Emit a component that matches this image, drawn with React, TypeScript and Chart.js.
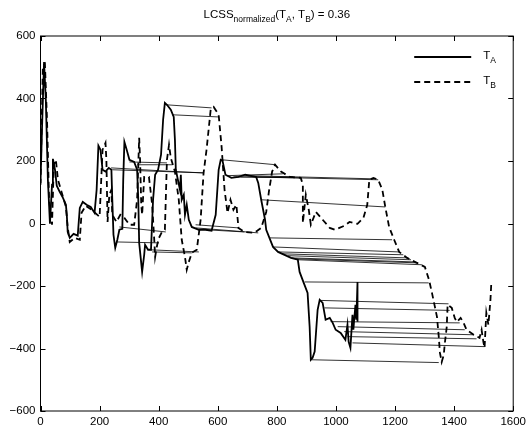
import React, { useEffect, useRef } from "react";
import { Chart, registerables } from "chart.js";

Chart.register(...registerables);

// T_A (solid)
const TA_X = [0, 5, 12, 18, 25, 32, 39, 42, 49, 55, 65, 76, 86, 89, 92, 99, 112, 126, 133, 143, 156, 170, 183, 190, 196, 203, 210, 220, 231, 240, 243, 247, 253, 260, 267, 277, 280, 284, 290, 301, 317, 327, 331, 334, 344, 351, 354, 364, 374, 381, 388, 398, 408, 415, 421, 428, 441, 451, 455, 458, 465, 472, 475, 478, 485, 489, 495, 502, 512, 536, 559, 579, 593, 603, 610, 616, 626, 646, 670, 693, 730, 737, 747, 760, 764, 787, 804, 848, 871, 877, 891, 904, 911, 915, 921, 928, 938, 945, 955, 965, 979, 989, 999, 1016, 1032, 1039, 1043, 1049, 1056, 1059, 1066, 1069, 1073, 1073];
const TA_Y = [130, 300, 517, 396, 140, -1, 124, 207, 172, 121, 101, 82, 60, 28, -27, -46, -33, -39, 50, 69, 60, 53, 34, 108, 249, 236, 172, 166, 178, 172, 76, -36, -78, -52, -20, -17, 140, 261, 242, 204, 197, 172, 76, -62, -155, -100, -68, -84, -84, 76, 156, 172, 220, 332, 386, 380, 364, 341, 268, 172, 140, 108, 156, 76, 92, 28, 60, 12, -11, -20, -20, -23, 28, 172, 204, 201, 156, 146, 149, 156, 149, 130, 76, 12, -20, -75, -91, -110, -116, -155, -190, -222, -331, -436, -430, -410, -276, -244, -254, -308, -302, -318, -340, -350, -372, -324, -379, -398, -292, -340, -260, -308, -187, -314];

// T_B (dashed)
const TB_X = [0, 8, 15, 22, 29, 39, 45, 52, 59, 76, 86, 92, 99, 116, 133, 139, 153, 173, 200, 210, 220, 223, 227, 233, 240, 243, 257, 270, 284, 301, 317, 327, 334, 337, 341, 344, 351, 367, 378, 385, 388, 395, 401, 411, 421, 428, 435, 441, 455, 468, 478, 489, 495, 502, 512, 529, 542, 552, 562, 576, 586, 603, 613, 623, 633, 643, 653, 663, 670, 690, 724, 747, 764, 774, 784, 794, 814, 844, 881, 888, 888, 898, 908, 915, 932, 955, 979, 996, 1029, 1046, 1073, 1093, 1106, 1113, 1127, 1143, 1157, 1167, 1180, 1197, 1214, 1241, 1274, 1301, 1315, 1325, 1335, 1342, 1348, 1352, 1358, 1365, 1368, 1375, 1378, 1392, 1402, 1409, 1422, 1432, 1442, 1466, 1486, 1493, 1499, 1503, 1509, 1516, 1523, 1526];
const TB_Y = [124, 505, 511, 332, 76, -4, 188, 204, 140, 86, 53, -11, -59, -46, -52, 34, 57, 44, 21, 236, 258, 204, 5, 92, 108, 28, 5, 28, 18, -4, -4, 76, 274, 204, 60, 28, 149, 149, 60, -52, -107, -68, -46, -27, -20, 204, 252, 210, 166, 76, -52, -107, -148, -123, -94, -84, 12, 162, 236, 364, 373, 348, 245, 108, 34, 76, 44, 60, -14, -27, -30, -14, 37, 108, 166, 188, 166, 149, 146, 124, 2, 92, 44, -4, 37, 12, -14, -20, -7, 5, -1, 18, 60, 140, 146, 140, 108, 53, -11, -52, -91, -110, -126, -139, -180, -222, -267, -299, -362, -414, -443, -420, -388, -331, -260, -270, -302, -315, -302, -318, -340, -356, -366, -340, -379, -398, -286, -324, -244, -187];

// LCSS matches: T_A point -> T_B point
const MATCH_A_X = [239, 243, 301, 327, 267, 257, 368, 378, 424, 445, 458, 525, 525, 559, 613, 630, 653, 677, 703, 730, 747, 776, 787, 804, 821, 838, 848, 861, 871, 894, 944, 961, 982, 1006, 1028, 1039, 1056, 916];
const MATCH_A_Y = [178, 172, 197, 188, -11, -59, -84, -91, 380, 348, 166, -4, -14, -20, 204, 153, 149, 149, 153, 149, 76, -46, -75, -91, -97, -103, -110, -113, -116, -187, -246, -270, -314, -330, -346, -362, -382, -436];
const MATCH_B_X = [457, 552, 428, 445, 424, 401, 536, 512, 579, 603, 552, 670, 737, 690, 797, 820, 855, 881, 1127, 1143, 1167, 1190, 1214, 1228, 1241, 1254, 1268, 1278, 1291, 1314, 1381, 1385, 1419, 1436, 1465, 1476, 1503, 1348];
const MATCH_B_Y = [166, 162, 194, 188, -27, -62, -91, -94, 370, 341, 162, -14, -30, -27, 188, 159, 149, 146, 143, 140, 53, -52, -91, -100, -110, -116, -123, -126, -132, -190, -257, -278, -318, -340, -356, -369, -394, -445];

const X_TICKS = [0, 200, 400, 600, 800, 1000, 1200, 1400, 1600];
const Y_TICKS = [-600, -400, -200, 0, 200, 400, 600];

const FONT = "'Liberation Sans', Arial, Helvetica, sans-serif";

function drawSubText(ctx: CanvasRenderingContext2D, parts: [string, boolean][], x: number, y: number, align: "left" | "center") {
  const big = "11.5px " + FONT;
  const small = "8.5px " + FONT;
  let total = 0;
  for (const [t, sub] of parts) {
    ctx.font = sub ? small : big;
    total += ctx.measureText(t).width;
  }
  let cx = align === "center" ? x - total / 2 : x;
  ctx.textAlign = "left";
  ctx.textBaseline = "alphabetic";
  for (const [t, sub] of parts) {
    ctx.font = sub ? small : big;
    ctx.fillText(t, cx, sub ? y + 4 : y);
    cx += ctx.measureText(t).width;
  }
}

const framePlugin = {
  id: "frame",
  afterDraw(chart: any) {
    const { ctx, chartArea, scales } = chart;
    const { left, right, top, bottom } = chartArea;
    ctx.save();
    ctx.strokeStyle = "#000";
    ctx.lineWidth = 1;
    ctx.strokeRect(left, top, right - left, bottom - top);
    ctx.beginPath();
    for (const v of X_TICKS) {
      const px = Math.round(scales.x.getPixelForValue(v)) + 0.5;
      ctx.moveTo(px, bottom);
      ctx.lineTo(px, bottom - 5);
      ctx.moveTo(px, top);
      ctx.lineTo(px, top + 5);
    }
    for (const v of Y_TICKS) {
      const py = Math.round(scales.y.getPixelForValue(v)) + 0.5;
      ctx.moveTo(left, py);
      ctx.lineTo(left + 5, py);
      ctx.moveTo(right, py);
      ctx.lineTo(right - 5, py);
    }
    ctx.stroke();

    ctx.fillStyle = "#000";
    // title
    drawSubText(
      ctx,
      [["LCSS", false], ["normalized", true], ["(T", false], ["A", true], [", T", false], ["B", true], [") = 0.36", false]],
      (left + right) / 2,
      18,
      "center"
    );

    // legend
    const lx1 = right - 99;
    const lx2 = right - 42;
    ctx.lineWidth = 2;
    ctx.setLineDash([]);
    ctx.beginPath();
    ctx.moveTo(lx1, 57);
    ctx.lineTo(lx2, 57);
    ctx.stroke();
    ctx.setLineDash([6, 4]);
    ctx.beginPath();
    ctx.moveTo(lx1, 82);
    ctx.lineTo(lx2, 82);
    ctx.stroke();
    ctx.setLineDash([]);
    drawSubText(ctx, [["T", false], ["A", true]], right - 30, 59, "left");
    drawSubText(ctx, [["T", false], ["B", true]], right - 30, 84, "left");
    ctx.restore();
  },
};

export default function App() {
  const ref = useRef<HTMLCanvasElement | null>(null);
  useEffect(() => {
    if (!ref.current) return;
    const ta = TA_X.map((x, i) => ({ x, y: TA_Y[i] }));
    const tb = TB_X.map((x, i) => ({ x, y: TB_Y[i] }));
    const matches: any[] = [];
    MATCH_A_X.forEach((ax, i) => {
      matches.push({ x: ax, y: MATCH_A_Y[i] });
      matches.push({ x: MATCH_B_X[i], y: MATCH_B_Y[i] });
      matches.push({ x: MATCH_B_X[i], y: null });
    });
    const tickFont = { family: FONT, size: 11.5 };
    const chart = new Chart(ref.current, {
      type: "scatter",
      data: {
        datasets: [
          { label: "T_A", data: ta, showLine: true, borderColor: "#000", borderWidth: 1.8, pointRadius: 0, tension: 0 },
          { label: "T_B", data: tb, showLine: true, borderColor: "#000", borderWidth: 1.8, borderDash: [6, 4], pointRadius: 0, tension: 0 },
          { label: "match", data: matches, showLine: true, spanGaps: false, borderColor: "#000", borderWidth: 0.8, pointRadius: 0, tension: 0 },
        ],
      },
      options: {
        animation: false,
        responsive: false,
        devicePixelRatio: 1,
        layout: { padding: { left: 0, right: 13.5, top: 36, bottom: 0 } },
        plugins: { legend: { display: false }, title: { display: false }, tooltip: { enabled: false } },
        scales: {
          x: {
            type: "linear",
            min: 0,
            max: 1600,
            grid: { display: false, drawTicks: false },
            border: { display: false },
            afterFit: (s: any) => { s.height = 19; },
            afterBuildTicks: (s: any) => { s.ticks = X_TICKS.map((v) => ({ value: v })); },
            ticks: { color: "#000", font: tickFont, padding: 4, maxRotation: 0, autoSkip: false, callback: (v: any) => String(v) },
          },
          y: {
            type: "linear",
            min: -600,
            max: 600,
            grid: { display: false, drawTicks: false },
            border: { display: false },
            afterFit: (s: any) => { s.width = 40.5; },
            afterBuildTicks: (s: any) => { s.ticks = Y_TICKS.map((v) => ({ value: v })); },
            ticks: { color: "#000", font: tickFont, padding: 5, autoSkip: false, callback: (v: any) => String(v).replace("-", "\u2212") },
          },
        },
      },
      plugins: [framePlugin],
    } as any);
    return () => chart.destroy();
  }, []);
  return (
    <div style={{ position: "absolute", left: 0, top: 0, width: 530, height: 430, background: "#fff" }}>
      <canvas ref={ref} width={530} height={430} style={{ width: 530, height: 430, display: "block" }} />
    </div>
  );
}
